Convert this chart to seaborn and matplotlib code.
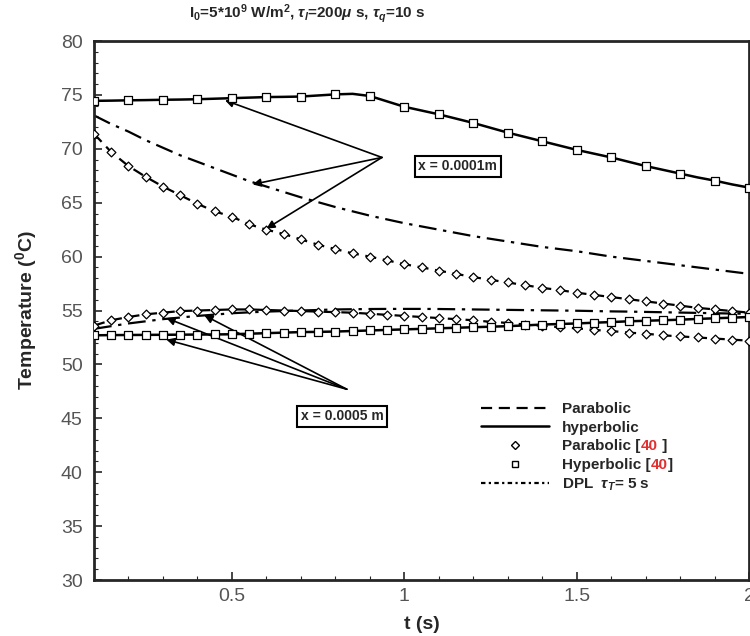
import numpy as np
import seaborn as sns
import matplotlib.pyplot as plt
from matplotlib.lines import Line2D
from matplotlib.transforms import IdentityTransform

# time grid (s) used for all curves
t = np.round(np.arange(0.10, 2.001, 0.05), 2)

# x = 0.0001 m
par_1 = [71.4, 69.7, 68.4, 67.4, 66.5, 65.7, 64.9, 64.2, 63.7, 63.0, 62.5, 62.1, 61.6,
         61.1, 60.7, 60.3, 60.0, 59.65, 59.3, 59.0, 58.7, 58.4, 58.1, 57.85, 57.6, 57.35,
         57.1, 56.9, 56.65, 56.45, 56.25, 56.05, 55.85, 55.65, 55.45, 55.25, 55.1, 54.95, 54.8]
hyp_1 = [74.45, 74.47, 74.5, 74.52, 74.55, 74.57, 74.6, 74.65, 74.7, 74.75, 74.8, 74.82,
         74.85, 74.95, 75.05, 75.1, 74.9, 74.4, 73.9, 73.55, 73.2, 72.8, 72.4, 71.95, 71.5,
         71.1, 70.7, 70.3, 69.9, 69.55, 69.2, 68.8, 68.4, 68.05, 67.7, 67.35, 67.05, 66.7, 66.4]
dpl_1 = [73.1, 72.3, 71.6, 70.8, 70.1, 69.4, 68.8, 68.2, 67.6, 67.0, 66.5, 66.0, 65.5,
         65.05, 64.6, 64.2, 63.8, 63.45, 63.1, 62.8, 62.5, 62.2, 61.9, 61.65, 61.4, 61.15,
         60.9, 60.7, 60.5, 60.25, 60.0, 59.8, 59.6, 59.4, 59.2, 59.0, 58.8, 58.6, 58.4]

# x = 0.0005 m
par_2 = [53.6, 54.1, 54.4, 54.65, 54.8, 54.95, 55.0, 55.05, 55.1, 55.1, 55.05, 55.0, 54.95,
         54.9, 54.85, 54.8, 54.7, 54.6, 54.5, 54.4, 54.3, 54.2, 54.1, 53.95, 53.85, 53.7,
         53.6, 53.45, 53.35, 53.2, 53.1, 52.95, 52.85, 52.7, 52.6, 52.5, 52.4, 52.3, 52.2]
hyp_2 = [52.7, 52.72, 52.73, 52.74, 52.75, 52.76, 52.77, 52.78, 52.8, 52.85, 52.9, 52.95,
         53.0, 53.02, 53.05, 53.1, 53.15, 53.2, 53.25, 53.3, 53.35, 53.4, 53.45, 53.5, 53.55,
         53.62, 53.7, 53.75, 53.8, 53.87, 53.93, 54.0, 54.05, 54.1, 54.15, 54.22, 54.28, 54.34, 54.4]
dpl_2 = [53.3, 53.55, 53.8, 54.0, 54.2, 54.35, 54.5, 54.62, 54.75, 54.83, 54.9, 54.95, 55.0,
         55.05, 55.1, 55.12, 55.14, 55.15, 55.15, 55.15, 55.14, 55.12, 55.1, 55.08, 55.06,
         55.04, 55.02, 55.0, 54.98, 54.95, 54.92, 54.9, 54.87, 54.84, 54.81, 54.78, 54.75, 54.72, 54.7]

sns.set_style("ticks")
plt.rcParams['font.family'] = ['Liberation Sans', 'DejaVu Sans']
plt.rcParams['mathtext.fontset'] = 'custom'
plt.rcParams['mathtext.rm'] = 'Liberation Sans:bold'
plt.rcParams['mathtext.it'] = 'Liberation Sans:bold:italic'
plt.rcParams['mathtext.bf'] = 'Liberation Sans:bold'

fig, ax = plt.subplots(figsize=(7.5, 6.36), dpi=100)
fig.subplots_adjust(left=0.1253, right=0.999, bottom=0.088, top=0.9355)

dash = (0, (5, 3))
dashdot = (0, (8, 3, 1.5, 3))
for par, hyp, dpl in [(par_1, hyp_1, dpl_1), (par_2, hyp_2, dpl_2)]:
    sns.lineplot(x=t, y=par, ax=ax, color='black', lw=1.6, linestyle=dash)
    sns.lineplot(x=t, y=hyp, ax=ax, color='black', lw=1.8)
    sns.lineplot(x=t, y=dpl, ax=ax, color='black', lw=1.6, linestyle=dashdot)

# reference data [40]
mk = dict(facecolor='white', edgecolor='black', linewidth=0.9, zorder=5)
sns.scatterplot(x=t, y=par_1, ax=ax, marker='D', s=20, **mk)
sns.scatterplot(x=t, y=par_2, ax=ax, marker='D', s=20, **mk)
sns.scatterplot(x=t[::2], y=hyp_1[::2], ax=ax, marker='s', s=26, **mk)
sns.scatterplot(x=t, y=hyp_2, ax=ax, marker='s', s=26, **mk)

ax.set_xlim(0.1, 2.0)
ax.set_ylim(30, 80)
ax.set_xticks([0.5, 1, 1.5, 2])
ax.set_xticklabels(['0.5', '1', '1.5', '2'])
ax.set_xticks(np.arange(0.1, 2.0, 0.1), minor=True)
ax.set_yticks(np.arange(30, 81, 5))
ax.set_yticks(np.arange(30, 81, 1), minor=True)
ax.tick_params(which='both', direction='in', labelsize=14, labelcolor='#555', width=1.2)
ax.tick_params(which='major', length=6)
ax.tick_params(axis='y', which='major', pad=8)
ax.tick_params(axis='x', which='major', pad=6)
ax.tick_params(which='minor', length=3, width=0.8)
for s in ax.spines.values():
    s.set_linewidth(2)

ax.set_xlabel('t (s)', fontsize=14, fontweight='bold', labelpad=8)
ax.set_ylabel('Temperature ($^0$C)', fontsize=14, fontweight='bold', labelpad=16)
fig.text(0.41, 0.978, r'I$_0$=5*10$^9$ W/m$^2$, $\tau_l$=200$\mu$ s, $\tau_q$=10 s',
         ha='center', va='center', fontsize=11, fontweight='bold')

# annotations
arrow = dict(arrowstyle='-|>', lw=1.2, color='black', mutation_scale=12,
             shrinkA=0, shrinkB=0)
for xy in [(0.48, 74.5), (0.56, 66.7), (0.60, 62.6)]:
    ax.annotate('', xy=xy, xytext=(0.935, 69.2), arrowprops=arrow)
for xy in [(0.31, 54.3), (0.42, 54.55), (0.31, 52.3)]:
    ax.annotate('', xy=xy, xytext=(0.833, 47.7), arrowprops=arrow)
box = dict(boxstyle='square,pad=0.25', fc='white', ec='black', lw=1.5)
ax.text(1.155, 68.4, 'x = 0.0001m', ha='center', va='center', fontsize=10,
        fontweight='bold', bbox=box)
ax.text(0.82, 45.2, 'x = 0.0005 m', ha='center', va='center', fontsize=10,
        fontweight='bold', bbox=box)

handles = [
    Line2D([], [], color='black', lw=1.6, linestyle=dash),
    Line2D([], [], color='black', lw=1.8),
    Line2D([], [], color='black', ls='none', marker='D', mfc='white', mec='black', ms=4.5),
    Line2D([], [], color='black', ls='none', marker='s', mfc='white', mec='black', ms=5),
    Line2D([], [], color='black', lw=1.6, linestyle=(0, (2, 1.5, 1, 1.5))),
]
labels = ['Parabolic', 'hyperbolic', 'Parabolic [', 'Hyperbolic [', r'DPL  $\tau_T$= 5 s']
leg = ax.legend(handles, labels, loc='upper left', bbox_to_anchor=(0.591, 0.33),
                frameon=False, borderpad=0, borderaxespad=0, handlelength=4.45,
                handletextpad=0.85, labelspacing=0.3,
                prop={'size': 11, 'weight': 'bold'})

# red reference number inside the legend labels
fig.canvas.draw()
r = fig.canvas.get_renderer()
for txt, tail in [(leg.get_texts()[2], ' ]'), (leg.get_texts()[3], ']')]:
    bb = txt.get_window_extent(r)
    red = fig.text(bb.x1, bb.y0, '40', color='#e03030', fontsize=11, fontweight='bold',
                   ha='left', va='bottom', transform=IdentityTransform())
    bb2 = red.get_window_extent(r)
    fig.text(bb2.x1, bb.y0, tail, fontsize=11, fontweight='bold',
             ha='left', va='bottom', transform=IdentityTransform())

fig.savefig('out.png', dpi=100)
